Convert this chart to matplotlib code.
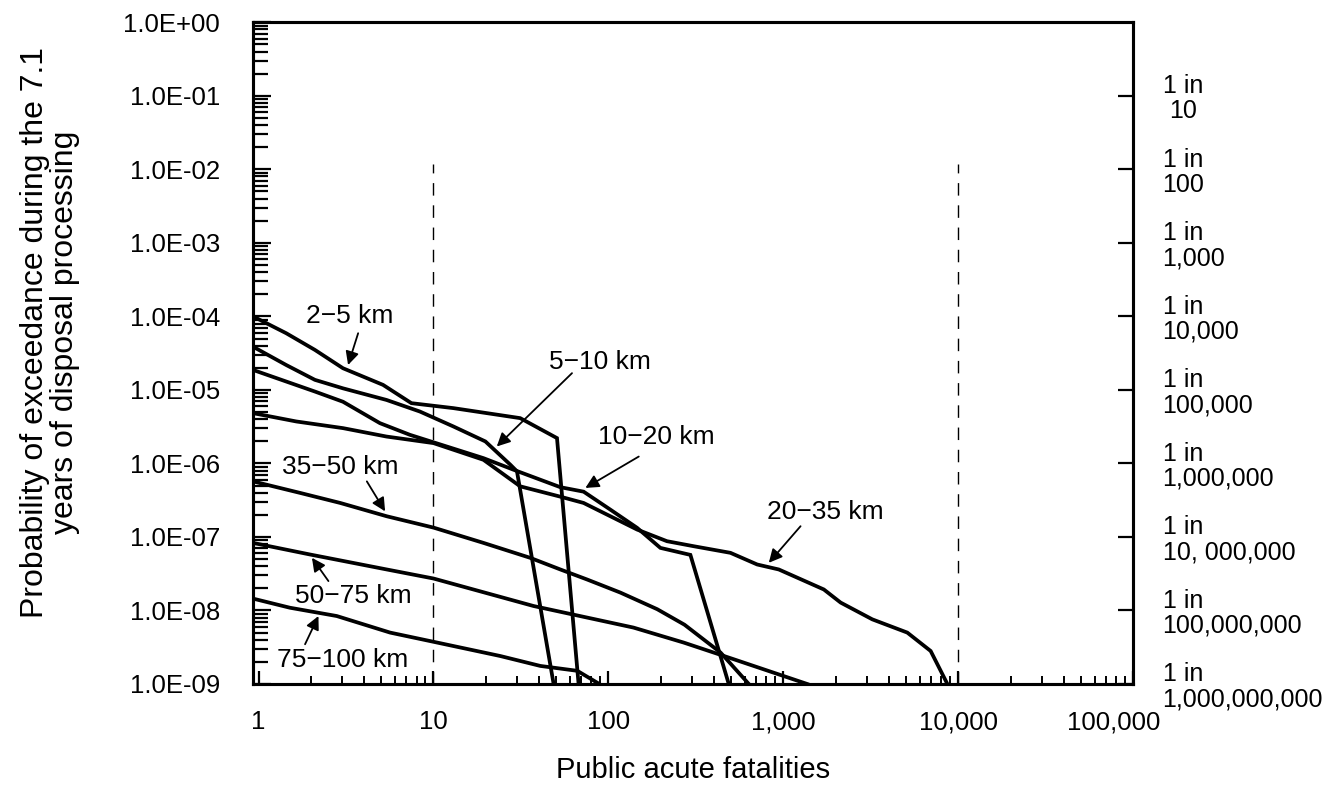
import matplotlib
matplotlib.use("Agg")
import matplotlib.pyplot as plt
import matplotlib.transforms as mtransforms

plt.rcParams['font.family'] = ['Liberation Sans', 'DejaVu Sans']

# curves (fatalities, probability of exceedance)
x_2_5 = [0.93, 1.44, 2.10, 3.04, 5.15, 7.48, 13.0, 31.3, 50.8, 67.5]
y_2_5 = [1.0e-4, 5.9e-5, 3.5e-5, 1.97e-5, 1.17e-5, 6.6e-6, 5.65e-6, 4.13e-6, 2.21e-6, 1.0e-9]

x_5_10 = [0.93, 1.44, 2.10, 3.04, 5.39, 8.36, 13.0, 19.8, 27.5, 30.0, 48.6]
y_5_10 = [3.87e-5, 2.18e-5, 1.37e-5, 1.05e-5, 7.3e-6, 5.08e-6, 3.18e-6, 1.99e-6, 9.6e-7, 7.8e-7, 1.0e-9]

x_10_20 = [0.93, 1.44, 2.10, 3.04, 4.94, 7.33, 19.3, 28.7, 53.1, 72.1, 102.6, 145.8, 198, 294, 487]
y_10_20 = [1.87e-5, 1.30e-5, 9.5e-6, 6.9e-6, 3.53e-6, 2.45e-6, 1.18e-6, 8.2e-7, 4.75e-7, 4.13e-7,
           2.35e-7, 1.33e-7, 7.1e-8, 5.7e-8, 1.0e-9]

x_20_35 = [0.93, 1.645, 3.04, 5.39, 10.0, 19.3, 31.3, 53.1, 72.1, 102.6, 145.8, 216, 307, 498,
           708, 941, 1702, 2123, 3221, 5105, 6942, 8650]
y_20_35 = [4.83e-6, 3.72e-6, 3.02e-6, 2.32e-6, 1.89e-6, 1.12e-6, 4.88e-7, 3.53e-7, 2.90e-7, 1.91e-7,
           1.26e-7, 8.75e-8, 7.48e-8, 6.08e-8, 4.22e-8, 3.61e-8, 1.93e-8, 1.28e-8, 7.57e-9, 5.0e-9,
           2.81e-9, 1.0e-9]

x_35_50 = [0.93, 1.73, 2.93, 5.41, 10.0, 19.3, 35.7, 53.1, 75.4, 117, 190, 272, 437, 634]
y_35_50 = [5.7e-7, 3.97e-7, 2.90e-7, 1.91e-7, 1.34e-7, 8.3e-8, 5.2e-8, 3.61e-8, 2.64e-8, 1.75e-8,
           1.04e-8, 6.4e-9, 2.68e-9, 1.0e-9]

x_50_75 = [0.93, 1.97, 5.41, 10.0, 37.3, 139, 269, 520, 1368]
y_50_75 = [8.3e-8, 5.77e-8, 3.61e-8, 2.72e-8, 1.15e-8, 5.85e-9, 3.66e-9, 2.17e-9, 1.0e-9]

x_75_100 = [0.93, 1.51, 2.80, 5.65, 10.0, 24.1, 40.8, 66.4, 88.7]
y_75_100 = [1.45e-8, 1.09e-8, 8.4e-9, 5.0e-9, 3.75e-9, 2.40e-9, 1.76e-9, 1.51e-9, 1.0e-9]

curves = [(x_2_5, y_2_5), (x_5_10, y_5_10), (x_10_20, y_10_20), (x_20_35, y_20_35),
          (x_35_50, y_35_50), (x_50_75, y_50_75), (x_75_100, y_75_100)]

# labels: text, text position, arrow tail, arrow tip
labels = [
    ("2\u22125 km", (3.34, 1.0e-4), (3.71, 5.9e-5), (3.25, 2.18e-5)),
    ("5\u221210 km", (89.9, 2.42e-5), (61.9, 1.69e-5), (23.0, 1.70e-6)),
    ("10\u221220 km", (188, 2.30e-6), (149, 1.24e-6), (73.8, 4.64e-7)),
    ("20\u221235 km", (1741, 2.18e-7), (1253, 1.40e-7), (825, 4.45e-8)),
    ("35\u221250 km", (2.93, 8.9e-7), (4.16, 5.7e-7), (5.29, 2.23e-7)),
    ("50\u221275 km", (3.47, 1.57e-8), (2.51, 2.51e-8), (2.02, 5.2e-8)),
    ("75\u2212100 km", (3.02, 2.10e-9), (1.845, 3.47e-9), (2.20, 8.4e-9)),
]

x_ticks = [1, 10, 100, 1000, 10000, 100000]
x_ticklabels = ["1", "10", "100", "1,000", "10,000", "100,000"]
y_ticks = [10.0 ** -i for i in range(10)]
y_ticklabels = ["1.0E+00", "1.0E-01", "1.0E-02", "1.0E-03", "1.0E-04",
                "1.0E-05", "1.0E-06", "1.0E-07", "1.0E-08", "1.0E-09"]
r_ticks = [10.0 ** -i for i in range(1, 10)]
r_ticklabels = ["1 in\n10", "1 in\n100", "1 in\n1,000", "1 in\n10,000", "1 in\n100,000",
                "1 in\n1,000,000", "1 in\n10, 000,000", "1 in\n100,000,000", "1 in\n1,000,000,000"]
dash_x = [10, 10000]

fig = plt.figure(figsize=(13.34, 7.88), dpi=100)
ax = fig.add_axes([0.1899, 0.1320, 0.8496 - 0.1899, 0.9717 - 0.1320])
ax.set_xscale("log")
ax.set_yscale("log")
ax.set_xlim(0.934, 1e5)
ax.set_ylim(1e-9, 1)

for xs, ys in curves:
    ax.plot(xs, ys, color="black", lw=2.7, solid_joinstyle="miter")

ax.vlines(dash_x, 1e-9, 1.2e-2, colors="black", lw=1.0, linestyles=(0, (9, 7)))

for txt, tpos, tail, tip in labels:
    ax.text(tpos[0], tpos[1], txt, fontsize=19, ha="center", va="center")
    ax.annotate("", xy=tip, xytext=tail,
                arrowprops=dict(arrowstyle="-|>", color="black", lw=1.3,
                                mutation_scale=20, shrinkA=0, shrinkB=0))

for s in ax.spines.values():
    s.set_linewidth(2.2)

ax.set_xticks(x_ticks, x_ticklabels)
ax.set_yticks(y_ticks, y_ticklabels)
ax.tick_params(axis="y", which="major", direction="in", length=13, width=1.6, pad=24,
               labelsize=18.5, right=False)
ax.tick_params(axis="y", which="minor", direction="in", length=10.5, width=1.6, right=False)
ax.tick_params(axis="x", which="major", direction="in", length=9.5, width=1.6, pad=19,
               labelsize=18.5, top=False)
ax.tick_params(axis="x", which="minor", direction="in", length=6, width=1.4, top=False)
ax.yaxis.set_minor_formatter(plt.NullFormatter())
ax.xaxis.set_minor_formatter(plt.NullFormatter())

# last x label sits a bit left of its tick in the original
last = ax.get_xticklabels()[-1]
last.set_transform(last.get_transform() +
                   mtransforms.ScaledTranslation(-0.2, 0, fig.dpi_scale_trans))

ax2 = ax.twinx()
ax2.set_yscale("log")
ax2.set_ylim(1e-9, 1)
ax2.set_yticks(r_ticks, r_ticklabels)
ax2.yaxis.set_minor_locator(plt.NullLocator())
ax2.tick_params(axis="y", which="major", direction="in", length=11, width=1.6, pad=21,
                labelsize=18)
for t in ax2.get_yticklabels():
    t.set_linespacing(1.05)
for t in ax2.get_yticklabels()[:2]:
    t.set_multialignment("center")
for s in ax2.spines.values():
    s.set_linewidth(2.2)

fig.text(693 / 1334, 1 - 770 / 788, "Public acute fatalities", fontsize=21,
         ha="center", va="center")
fig.text(50 / 1334, 1 - 332 / 788,
         "Probability of exceedance during the 7.1\nyears of disposal processing",
         fontsize=23, ha="center", va="center", rotation=90, multialignment="center",
         linespacing=1.0)

plt.savefig("out.png", dpi=100)
